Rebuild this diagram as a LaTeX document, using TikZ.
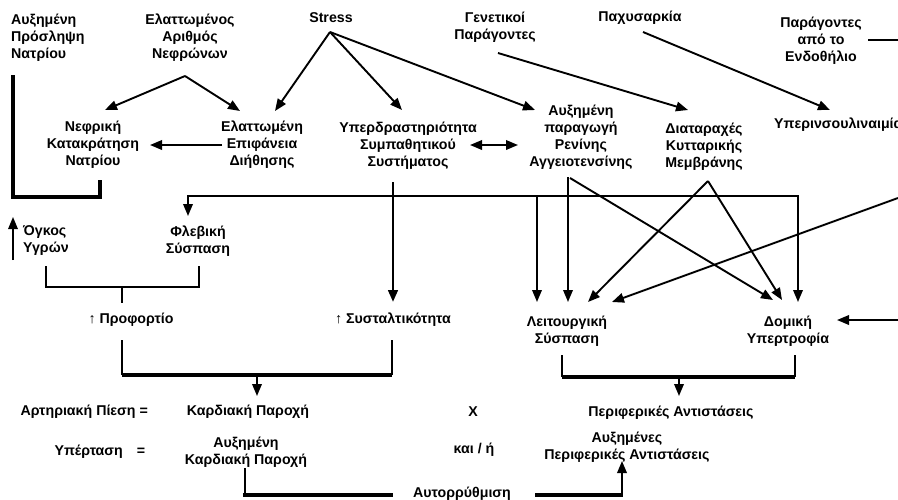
\documentclass[tikz,border=0pt]{standalone}
\usepackage{fontspec}
\setmainfont{Liberation Sans}
\usetikzlibrary{arrows.meta}
\tikzset{
  lbl/.style={font=\bfseries\fontsize{14.2}{17}\selectfont, align=center, inner sep=0pt},
  lbll/.style={lbl, align=left},
  tip/.style={-{Triangle[length=12pt,width=9.5pt]}},
  conn/.style={line width=1.9pt, tip},
  plain/.style={line width=1.9pt},
  thick3/.style={line width=3.2pt},
  thin/.style={line width=1.5pt},
}
\begin{document}
\begin{tikzpicture}[x=1pt,y=-1pt]
\clip (0,0) rectangle (898,499);
\fill[white] (0,0) rectangle (898,499);
% ---- text nodes ----
\node[lbll, anchor=west] (sodium) at (11,38) {Αυξημένη\\Πρόσληψη\\Νατρίου};
\node[lbl] (nephr) at (190,38) {Ελαττωμένος\\Αριθμός\\Νεφρώνων};
\node[lbl] (stress) at (331,18) {Stress};
\node[lbl] (genet) at (495,27) {Γενετικοί\\Παράγοντες};
\node[lbl] (obes) at (640,18) {Παχυσαρκία};
\node[lbl] (endo) at (821,41) {Παράγοντες\\από το\\Ενδοθήλιο};
\node[lbl] (retent) at (93,145) {Νεφρική\\Κατακράτηση\\Νατρίου};
\node[lbl] (filt) at (262,145) {Ελαττωμένη\\Επιφάνεια\\Διήθησης};
\node[lbl] (symp) at (408,146) {Υπερδραστηριότητα\\Συμπαθητικού\\Συστήματος};
\node[lbl] (renin) at (581,137) {Αυξημένη\\παραγωγή\\Ρενίνης\\Αγγειοτενσίνης};
\node[lbl] (membr) at (704,147) {Διαταραχές\\Κυτταρικής\\Μεμβράνης};
\node[lbl, anchor=west] (insul) at (774,125) {Υπερινσουλιναιμία};
\node[lbll, anchor=west] (fluid) at (23,241) {Όγκος\\Υγρών};
\node[lbl] (venous) at (198,241) {Φλεβική\\Σύσπαση};
\node[lbl] (preload) at (131,320) {↑ Προφορτίο};
\node[lbl] (contr) at (393,320) {↑ Συσταλτικότητα};
\node[lbl] (func) at (567,331) {Λειτουργική\\Σύσπαση};
\node[lbl] (struct) at (788,331) {Δομική\\Υπερτροφία};
\node[lbl, anchor=east] (bp) at (148,412) {Αρτηριακή Πίεση =};
\node[lbl] (co) at (248,412) {Καρδιακή Παροχή};
\node[lbl] (times) at (473,412) {X};
\node[lbl] (pr) at (671,413) {Περιφερικές Αντιστάσεις};
\node[lbl, anchor=east] (ht) at (123,452) {Υπέρταση};
\node[lbl] (eq) at (141,452) {=};
\node[lbl] (incco) at (246,452) {Αυξημένη\\Καρδιακή Παροχή};
\node[lbl] (andor) at (474,450) {και / ή};
\node[lbl] (incpr) at (627,447) {Αυξημένες\\Περιφερικές Αντιστάσεις};
\node[lbl] (auto) at (462,494) {Αυτορρύθμιση};
% ---- named connector points ----
\coordinate (nA) at (185,76);
\coordinate (sA) at (330,32);
\coordinate (gA) at (498,53);
\coordinate (oA) at (643,32);
\coordinate (mA) at (708,181);
\coordinate (rB) at (568,177);
\coordinate (rD) at (570,178);
\coordinate (sB) at (393,182);
\coordinate (filtW) at (222,145);
\coordinate (retE) at (150,145);
\coordinate (symE) at (470,145);
\coordinate (renW) at (518,145);
\coordinate (insIn) at (898,198);
\coordinate (rightIn) at (898,320);
\coordinate (endoE) at (868,40);
\coordinate (endoOut) at (898,40);
% ---- top arrows ----
\draw[conn] (nA) -- (105,110);
\draw[conn] (nA) -- (240,111);
\draw[conn] (sA) -- (275,111);
\draw[conn] (sA) -- (402,110);
\draw[conn] (sA) -- (535,110);
\draw[conn] (gA) -- (688,110);
\draw[conn] (oA) -- (830,110);
\draw[conn] (filtW) -- (retE);
\draw[line width=1.9pt, {Triangle[length=12pt,width=9.5pt]}-{Triangle[length=12pt,width=9.5pt]}] (symE) -- (renW);
\draw[thin] (endoE) -- (endoOut);
% ---- left feedback bracket ----
\draw[thick3] (13,75) -- (13,197) -- (100,197) -- (100,180);
% ---- distribution line ----
\draw[plain] (188,196) -- (798,196);
\draw[conn] (188,195.1) -- (188,216);
\draw[conn] (537,195.1) -- (537,302);
\draw[conn] (798,195.1) -- (798,302);
\draw[line width=2.8pt, tip] (sB) -- (393,302);
\draw[conn] (rB) -- (568,302);
\draw[conn] (rD) -- (773,300);
\draw[conn] (mA) -- (588,302);
\draw[conn] (mA) -- (782,300);
\draw[conn] (insIn) -- (612,302);
\draw[conn] (rightIn) -- (837,320);
% ---- volume / venous ----
\draw[line width=1.6pt, tip] (13,260) -- (13,217);
\draw[thin] (46,266) -- (46,287) -- (199,287) -- (199,266);
\draw[thin] (122,287) -- (122,303);
% ---- lower brackets ----
\draw[thin] (122,340) -- (122,375);
\draw[thin] (392,340) -- (392,375);
\draw[thick3] (122,375) -- (392,375);
\draw[conn] (257,375) -- (257,396);
\draw[thin] (562,355) -- (562,377);
\draw[thin] (795,355) -- (795,377);
\draw[thick3] (562,377) -- (795,377);
\draw[conn] (679,377) -- (679,396);
% ---- autoregulation ----
\draw[thin] (245,468) -- (245,495);
\draw[thick3] (243,495) -- (393,495);
\draw[thick3] (535,495) -- (623,495);
\draw[conn] (622,495) -- (622,461);
\end{tikzpicture}
\end{document}
